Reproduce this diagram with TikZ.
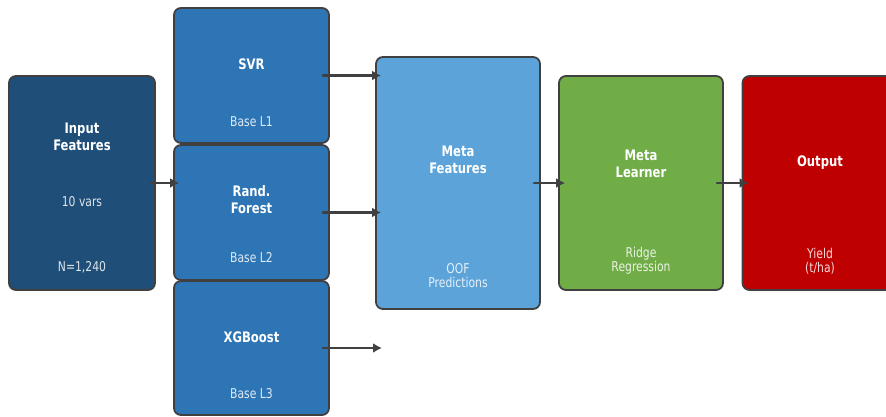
\documentclass[tikz,border=0pt]{standalone}
\usepackage{fontspec}
\setmainfont{DejaVu Sans}[FakeStretch=0.8]
\usetikzlibrary{arrows.meta,calc}
\definecolor{inpblue}{rgb}{0.12,0.31,0.47}
\definecolor{baseblue}{rgb}{0.18,0.46,0.71}
\definecolor{metablue}{rgb}{0.36,0.64,0.85}
\definecolor{ridgegreen}{rgb}{0.44,0.68,0.28}
\definecolor{yieldred}{rgb}{0.75,0,0}
\definecolor{edgegray}{rgb}{0.25,0.25,0.25}

\begin{document}
\begin{tikzpicture}[line cap=round,line join=round,>={Latex[length=9pt,width=10pt]},x=1pt,y=1pt,
        box/.style={draw=edgegray,line width=1.8pt,rounded corners=7pt,inner sep=0pt},
        ttl/.style={text=white,font=\fontsize{14.5}{17}\selectfont\bfseries,align=center},
        sub/.style={text=white,text opacity=0.85,font=\fontsize{13.5}{14}\selectfont,align=center},
        flow/.style={->,color=edgegray,line width=2.2pt}]
        \useasboundingbox (0,0) rectangle (886,416);
        % boxes
        \node[box,fill=inpblue,minimum width=146pt,minimum height=214pt] (inp) at (82,233) {};
        \node[box,fill=baseblue,minimum width=155pt,minimum height=135pt] (svr) at (251.5,340.5) {};
        \node[box,fill=baseblue,minimum width=155pt,minimum height=135pt] (rf) at (251.5,203.5) {};
        \node[box,fill=baseblue,minimum width=155pt,minimum height=134pt] (xgb) at (251.5,68) {};
        \node[box,fill=metablue,minimum width=164pt,minimum height=252pt] (meta) at (458,233) {};
        \node[box,fill=ridgegreen,minimum width=164pt,minimum height=214pt] (learn) at (641,233) {};
        \node[box,fill=yieldred,minimum width=155pt,minimum height=214pt] (out) at (820,233) {};
        % texts
        \node[ttl] (inpttl) at ([yshift=46pt]inp.center) {Input\\Features};
        \node[sub] (inpvars) at ([yshift=-19pt]inp.center) {10 vars};
        \node[sub] (inpn) at ([yshift=-84pt]inp.center) {N=1,240};
        \node[ttl] (svrttl) at ([yshift=11.5pt]svr.center) {SVR};
        \node[sub] (svrsub) at ([yshift=-46.5pt]svr.center) {Base L1};
        \node[ttl] (rfttl) at ([yshift=12.5pt]rf.center) {Rand.\\Forest};
        \node[sub] (rfsub) at ([yshift=-45.5pt]rf.center) {Base L2};
        \node[ttl] (xgbttl) at ([yshift=11pt]xgb.center) {XGBoost};
        \node[sub] (xgbsub) at ([yshift=-46pt]xgb.center) {Base L3};
        \node[ttl] (metattl) at ([yshift=23.5pt]meta.center) {Meta\\Features};
        \node[sub] (metasub) at ([yshift=-93pt]meta.center) {OOF\\Predictions};
        \node[ttl] (learnttl) at ([yshift=19pt]learn.center) {Meta\\Learner};
        \node[sub] (learnsub) at ([yshift=-78pt]learn.center) {Ridge\\Regression};
        \node[ttl] (outttl) at ([yshift=20pt]out.center) {Output};
        \node[sub] (outsub) at ([yshift=-78pt]out.center) {Yield\\(t/ha)};
        % arrows
        \coordinate (xgbend) at (382,68);
        \draw[flow] ([xshift=-5pt]inp.east) -- ($(inp.east -| rf.west)+(6,0)$);
        \draw[flow] ([xshift=-7pt]svr.east) -- ($(svr.east -| meta.west)+(6,0)$);
        \draw[flow] ([xshift=-7pt]rf.east) -- ($(rf.east -| meta.west)+(6,0)$);
        \draw[flow] ([xshift=-7pt]xgb.east) -- (xgbend);
        \draw[flow] ([xshift=-7pt]meta.east) -- ($(learn.west)+(7,0)$);
        \draw[flow] ([xshift=-7pt]learn.east) -- ($(out.west)+(7,0)$);
\end{tikzpicture}
\end{document}
